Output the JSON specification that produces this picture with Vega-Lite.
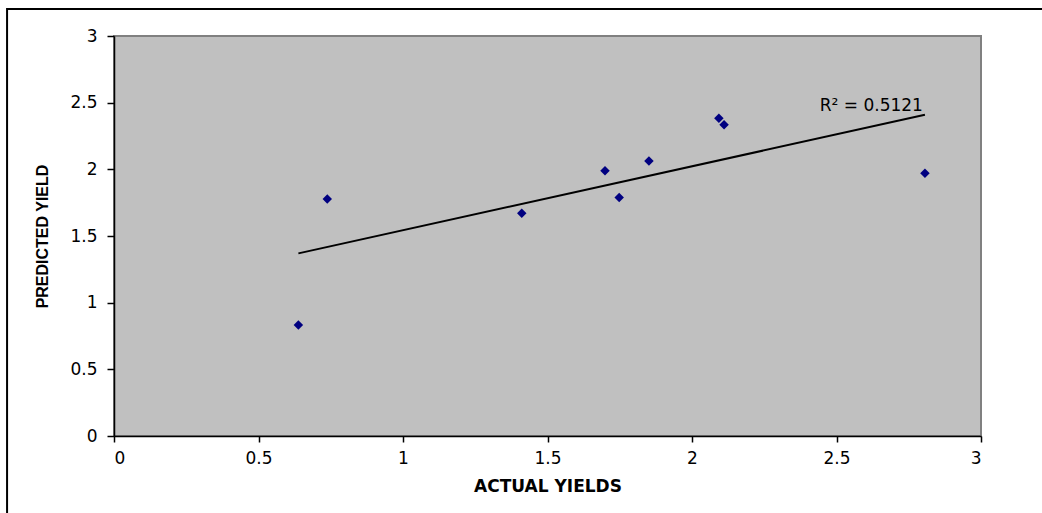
{
  "$schema": "https://vega.github.io/schema/vega-lite/v6.json",
  "width": 867,
  "height": 400,
  "autosize": {"type": "none"},
  "padding": {"left": 114, "top": 36, "right": 61, "bottom": 77},
  "background": "white",
  "config": {
    "view": {"fill": "#c0c0c0", "stroke": "#808080", "strokeWidth": 2},
    "axis": {
      "grid": false,
      "domainColor": "black",
      "domainWidth": 1.5,
      "tickColor": "black",
      "tickWidth": 1.5,
      "labelColor": "black",
      "labelFont": "DejaVu Sans",
      "labelFontSize": 17,
      "titleColor": "black",
      "titleFontWeight": "bold"
    },
    "axisX": {"tickSize": 6, "labelPadding": 8, "titleFont": "DejaVu Sans", "titleFontSize": 17, "titlePadding": 12},
    "axisY": {"tickSize": 7, "labelPadding": 10, "titleFont": "Liberation Sans", "titleFontSize": 16, "titlePadding": 19}
  },
  "data": {
    "values": [
      {"actual": 0.638, "predicted": 0.833},
      {"actual": 0.738, "predicted": 1.778},
      {"actual": 1.411, "predicted": 1.670},
      {"actual": 1.699, "predicted": 1.990},
      {"actual": 1.748, "predicted": 1.789},
      {"actual": 1.851, "predicted": 2.063},
      {"actual": 2.093, "predicted": 2.383},
      {"actual": 2.111, "predicted": 2.335},
      {"actual": 2.806, "predicted": 1.970}
    ]
  },
  "layer": [
    {
      "data": {"values": [{}]},
      "mark": {"type": "rect", "fill": null, "stroke": "black", "strokeWidth": 2, "clip": false},
      "encoding": {
        "x": {"datum": -0.37, "type": "quantitative", "scale": {"domain": [0, 3], "nice": false, "zero": false}},
        "x2": {"datum": 3.3},
        "y": {"datum": 3.2025, "type": "quantitative", "scale": {"domain": [0, 3], "nice": false, "zero": false}},
        "y2": {"datum": -0.8}
      }
    },
    {
      "mark": {"type": "point", "shape": "diamond", "filled": true, "color": "#000080", "size": 90, "opacity": 1},
      "encoding": {
        "x": {
          "field": "actual", "type": "quantitative",
          "scale": {"domain": [0, 3], "nice": false, "zero": false},
          "axis": {"values": [0, 0.5, 1, 1.5, 2, 2.5, 3], "format": "~g", "title": "ACTUAL YIELDS"}
        },
        "y": {
          "field": "predicted", "type": "quantitative",
          "scale": {"domain": [0, 3], "nice": false, "zero": false},
          "axis": {"values": [0, 0.5, 1, 1.5, 2, 2.5, 3], "format": "~g", "title": "PREDICTED YIELD"}
        }
      }
    },
    {
      "transform": [{"regression": "predicted", "on": "actual"}],
      "mark": {"type": "line", "color": "black", "strokeWidth": 2},
      "encoding": {
        "x": {"field": "actual", "type": "quantitative", "title": "ACTUAL YIELDS", "scale": {"domain": [0, 3], "nice": false, "zero": false}},
        "y": {"field": "predicted", "type": "quantitative", "title": "PREDICTED YIELD", "scale": {"domain": [0, 3], "nice": false, "zero": false}}
      }
    },
    {
      "transform": [
        {"regression": "predicted", "on": "actual"},
        {"filter": "datum.actual > 2"}
      ],
      "mark": {"type": "text", "text": "R² = 0.5121", "align": "right", "baseline": "alphabetic", "dx": -2, "dy": -4, "font": "DejaVu Sans", "fontSize": 17, "color": "black"},
      "encoding": {
        "x": {"field": "actual", "type": "quantitative", "title": "ACTUAL YIELDS", "scale": {"domain": [0, 3], "nice": false, "zero": false}},
        "y": {"field": "predicted", "type": "quantitative", "title": "PREDICTED YIELD", "scale": {"domain": [0, 3], "nice": false, "zero": false}}
      }
    }
  ]
}
